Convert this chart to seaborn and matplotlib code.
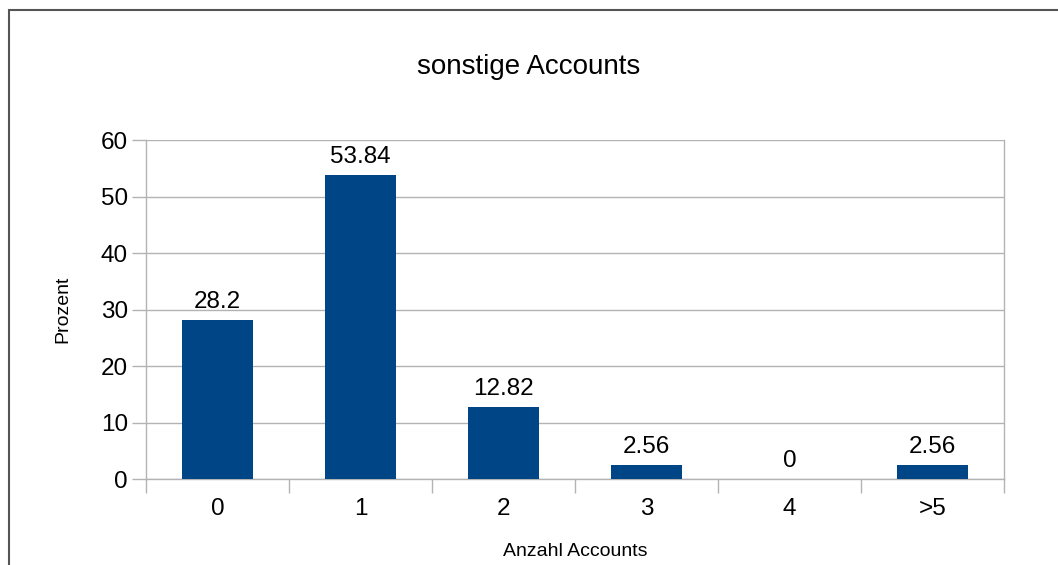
import seaborn as sns
import matplotlib.pyplot as plt
import matplotlib.patches as mpatches
import numpy as np
import pandas as pd

categories = ["0", "1", "2", "3", "4", ">5"]
values = [28.2, 53.84, 12.82, 2.56, 0, 2.56]
value_labels = ["28.2", "53.84", "12.82", "2.56", "0", "2.56"]
y_ticks = [0, 10, 20, 30, 40, 50, 60]

sns.set_theme(style="white")
plt.rcParams['font.family'] = ['Liberation Sans', 'DejaVu Sans']

df = pd.DataFrame({"Anzahl": categories, "Prozent": values})

fig = plt.figure(figsize=(10.58, 5.65), dpi=100)
ax = fig.add_axes([146 / 1058, 1 - 479 / 565, (1004 - 146) / 1058, (479 - 140) / 565])

sns.barplot(data=df, x="Anzahl", y="Prozent", color="#004586", width=0.5,
            saturation=1, linewidth=0, ax=ax, zorder=3)

ax.set_ylim(0, 60)
ax.set_xlim(-0.5, len(categories) - 0.5)
ax.set_yticks(y_ticks)
ax.yaxis.grid(True, color="#b3b3b3", linewidth=1, zorder=0)
ax.set_axisbelow(True)

for spine in ax.spines.values():
    spine.set_color("#b3b3b3")
    spine.set_linewidth(1)
ax.spines["top"].set_visible(False)

ax.tick_params(axis="y", which="major", length=10, width=1, color="#b3b3b3",
               labelsize=17.5, pad=3, left=True, labelcolor="black")
ax.tick_params(axis="x", which="major", length=0, labelsize=17.5, pad=14, labelcolor="black")
ax.set_xticks(np.arange(-0.5, len(categories)), minor=True)
ax.tick_params(axis="x", which="minor", length=10, width=1, color="#b3b3b3", bottom=True)

for i, (v, lab) in enumerate(zip(values, value_labels)):
    ax.annotate(lab, (i, v), xytext=(0, 5), textcoords="offset points",
                ha="center", va="bottom", fontsize=17.5, color="black")

ax.set_xlabel("Anzahl Accounts", fontsize=14, color="black")
ax.set_ylabel("Prozent", fontsize=14, color="black")
ax.xaxis.set_label_coords(0.5, (479 - 552) / 339, transform=ax.transAxes)
ax.xaxis.label.set_va("center")
ax.yaxis.set_label_coords((63 - 146) / 858, 0.5, transform=ax.transAxes)
ax.yaxis.label.set_va("center")
fig.text(529 / 1058, 1 - 67 / 565, "sonstige Accounts", fontsize=20,
         ha="center", va="center", color="black")

border = mpatches.Rectangle((8.5 / 1058, -0.05), 1.1, 1 - 9.5 / 565 + 0.05,
                            transform=fig.transFigure, fill=False,
                            edgecolor="#555555", linewidth=1.5)
fig.patches.append(border)

fig.savefig("out.png", dpi=100)
